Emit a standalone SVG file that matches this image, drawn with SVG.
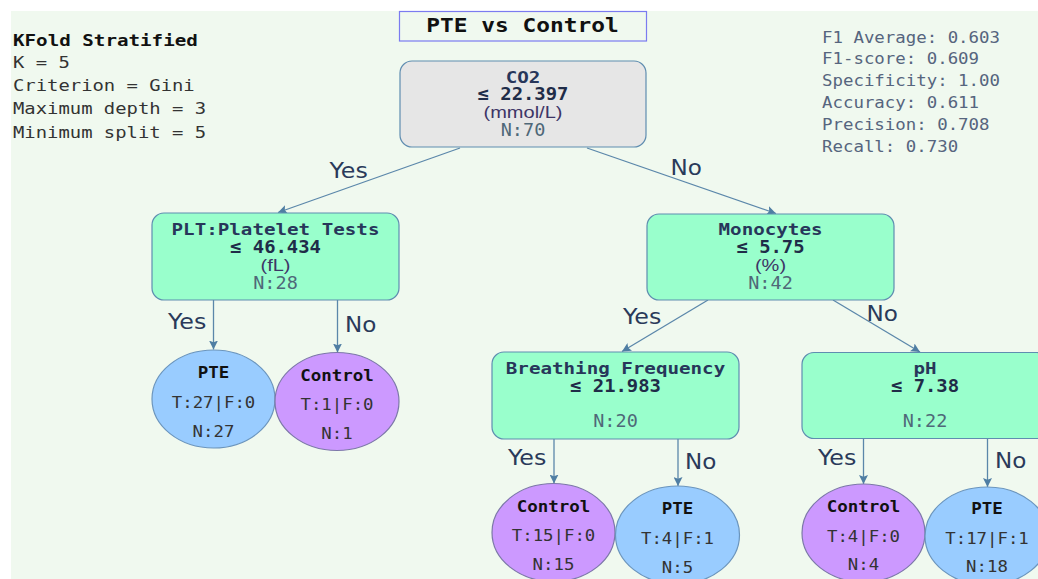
<svg xmlns="http://www.w3.org/2000/svg" width="1038" height="579" viewBox="0 0 1038 579">
  <style>
    .hdr { font-family: "DejaVu Sans Mono", monospace; font-size: 16px; font-weight: bold; fill: #111; }
    .par { font-family: "DejaVu Sans Mono", monospace; font-size: 16px; fill: #333; }
    .met { font-family: "DejaVu Sans Mono", monospace; font-size: 15px; fill: #56657e; }
    .ttl { font-family: "DejaVu Sans Mono", monospace; font-size: 19.5px; font-weight: bold; fill: #111; text-anchor: middle; }
    .nm  { font-family: "DejaVu Sans Mono", monospace; font-size: 16px; font-weight: bold; fill: #27365a; text-anchor: middle; }
    .th  { font-family: "DejaVu Sans Mono", monospace; font-size: 18px; font-weight: bold; fill: #1f2c48; text-anchor: middle; }
    .un  { font-family: "Liberation Sans", Arial, sans-serif; font-size: 16px; fill: #3d3566; text-anchor: middle; }
    .n   { font-family: "DejaVu Sans Mono", monospace; font-size: 17px; fill: #4f6878; text-anchor: middle; }
    .lt  { font-family: "DejaVu Sans Mono", monospace; font-size: 15.5px; font-weight: bold; fill: #111; text-anchor: middle; }
    .ls  { font-family: "DejaVu Sans Mono", monospace; font-size: 15.5px; fill: #333; text-anchor: middle; }
    .el  { font-family: "DejaVu Sans", Verdana, sans-serif; font-size: 22px; fill: #2a3a5a; }
    .box { stroke: #5f8db0; stroke-width: 1.2; }
    .split { fill: #99ffcc; }
    .rootbox { fill: #e6e6e6; }
    .pte { fill: #99ccff; stroke: #6b95bd; stroke-width: 1.2; }
    .ctl { fill: #cc99ff; stroke: #7c78a8; stroke-width: 1.2; }
    .edge { fill: none; stroke: #5b87aa; stroke-width: 1.3; marker-end: url(#arr); }
  </style>
  <defs>
    <marker id="arr" viewBox="0 0 10 10" refX="10" refY="5" markerWidth="9" markerHeight="9" markerUnits="userSpaceOnUse" orient="auto">
      <path d="M0,0 L10,5 L0,10 L2,5 z" fill="#4f7ea3"/>
    </marker>
  </defs>

  <!-- canvas -->
  <rect x="11" y="11" width="1027" height="568" fill="#f0f9ef"/>

  <!-- model settings -->
  <g id="settings">
    <text class="hdr" transform="translate(13 45.5) scale(1.2 1)">KFold Stratified</text>
    <text class="par" transform="translate(13 68) scale(1.18 1)">K = 5</text>
    <text class="par" transform="translate(13 91) scale(1.18 1)">Criterion = Gini</text>
    <text class="par" transform="translate(13 114) scale(1.18 1)">Maximum depth = 3</text>
    <text class="par" transform="translate(13 137.5) scale(1.18 1)">Minimum split = 5</text>
  </g>

  <!-- scores -->
  <g id="metrics">
    <text class="met" transform="translate(822 42.5) scale(1.16 1)">F1 Average: 0.603</text>
    <text class="met" transform="translate(822 64.3) scale(1.16 1)">F1-score: 0.609</text>
    <text class="met" transform="translate(822 86.1) scale(1.16 1)">Specificity: 1.00</text>
    <text class="met" transform="translate(822 107.9) scale(1.16 1)">Accuracy: 0.611</text>
    <text class="met" transform="translate(822 129.7) scale(1.16 1)">Precision: 0.708</text>
    <text class="met" transform="translate(822 151.5) scale(1.16 1)">Recall: 0.730</text>
  </g>

  <!-- title -->
  <g id="title">
    <rect x="399.5" y="11.5" width="247" height="29.5" fill="none" stroke="#7b7bf0" stroke-width="1.2"/>
    <text class="ttl" transform="translate(522.5 31.5) scale(1.17 1)">PTE vs Control</text>
  </g>

  <!-- connectors -->
  <g id="connectors">
    <path class="edge" d="M460 148 L278 212.5"/>
    <path class="edge" d="M587 148 L776 213.5"/>
    <path class="edge" d="M213.5 300 V349.5"/>
    <path class="edge" d="M337.5 300 V352.5"/>
    <path class="edge" d="M708 300 L622 351.5"/>
    <path class="edge" d="M833 300 L920 352"/>
    <path class="edge" d="M554 439 V483.5"/>
    <path class="edge" d="M678 439 V486"/>
    <path class="edge" d="M863.5 438.5 V484"/>
    <path class="edge" d="M987.5 438.5 V487"/>
    <g id="edge-labels">
      <text class="el" transform="translate(329.5 178.3) scale(1.08 1)">Yes</text>
      <text class="el" transform="translate(670.5 175) scale(1.05 1)">No</text>
      <text class="el" transform="translate(168 328.5) scale(1.08 1)">Yes</text>
      <text class="el" transform="translate(345 331.5) scale(1.05 1)">No</text>
      <text class="el" transform="translate(623 324) scale(1.08 1)">Yes</text>
      <text class="el" transform="translate(866.5 320.5) scale(1.05 1)">No</text>
      <text class="el" transform="translate(508 465) scale(1.08 1)">Yes</text>
      <text class="el" transform="translate(685 468.5) scale(1.05 1)">No</text>
      <text class="el" transform="translate(818 465) scale(1.08 1)">Yes</text>
      <text class="el" transform="translate(995 467.5) scale(1.05 1)">No</text>
    </g>
  </g>

  <!-- split nodes -->
  <g id="node-co2">
    <rect class="box rootbox" x="400" y="61" width="246" height="86" rx="12"/>
    <text class="nm" transform="translate(523 83) scale(1.2 1)">CO2</text>
    <text class="th" transform="translate(523 100) scale(1.05 1)">≤ 22.397</text>
    <text class="un" transform="translate(523 118) scale(1.25 1)">(mmol/L)</text>
    <text class="n" transform="translate(523 136) scale(1.09 1)">N:70</text>
  </g>

  <g id="node-plt">
    <rect class="box split" x="152" y="213" width="247" height="87" rx="12"/>
    <text class="nm" transform="translate(275.5 235) scale(1.2 1)">PLT:Platelet Tests</text>
    <text class="th" transform="translate(275.5 252.5) scale(1.05 1)">≤ 46.434</text>
    <text class="un" transform="translate(275.5 271) scale(1.25 1)">(fL)</text>
    <text class="n" transform="translate(275.5 288.5) scale(1.09 1)">N:28</text>
  </g>

  <g id="node-monocytes">
    <rect class="box split" x="647" y="214" width="247" height="86" rx="12"/>
    <text class="nm" transform="translate(770.5 235) scale(1.2 1)">Monocytes</text>
    <text class="th" transform="translate(770.5 252.5) scale(1.05 1)">≤ 5.75</text>
    <text class="un" transform="translate(770.5 270.5) scale(1.25 1)">(%)</text>
    <text class="n" transform="translate(770.5 288.5) scale(1.09 1)">N:42</text>
  </g>

  <g id="node-breathing">
    <rect class="box split" x="492" y="352" width="247" height="87" rx="12"/>
    <text class="nm" transform="translate(615.5 374) scale(1.2 1)">Breathing Frequency</text>
    <text class="th" transform="translate(615.5 391.5) scale(1.05 1)">≤ 21.983</text>
    <text class="n" transform="translate(615.5 426.5) scale(1.09 1)">N:20</text>
  </g>

  <g id="node-ph">
    <rect class="box split" x="802" y="352.5" width="247" height="86" rx="12"/>
    <text class="nm" transform="translate(925 373.5) scale(1.2 1)">pH</text>
    <text class="th" transform="translate(925 391.5) scale(1.05 1)">≤ 7.38</text>
    <text class="n" transform="translate(925 426.5) scale(1.09 1)">N:22</text>
  </g>

  <!-- leaves -->
  <g id="leaf-plt-yes">
    <ellipse class="pte" cx="213.5" cy="399" rx="61.5" ry="49"/>
    <text class="lt" transform="translate(213.5 378) scale(1.13 1)">PTE</text>
    <text class="ls" transform="translate(213.5 407.5) scale(1.12 1)">T:27|F:0</text>
    <text class="ls" transform="translate(213.5 437) scale(1.12 1)">N:27</text>
  </g>

  <g id="leaf-plt-no">
    <ellipse class="ctl" cx="337" cy="401.5" rx="62" ry="49"/>
    <text class="lt" transform="translate(337 380.5) scale(1.13 1)">Control</text>
    <text class="ls" transform="translate(337 410) scale(1.12 1)">T:1|F:0</text>
    <text class="ls" transform="translate(337 439) scale(1.12 1)">N:1</text>
  </g>

  <g id="leaf-breathing-yes">
    <ellipse class="ctl" cx="553.5" cy="532.5" rx="61.5" ry="49"/>
    <text class="lt" transform="translate(553.5 511.5) scale(1.13 1)">Control</text>
    <text class="ls" transform="translate(553.5 540.5) scale(1.12 1)">T:15|F:0</text>
    <text class="ls" transform="translate(553.5 570) scale(1.12 1)">N:15</text>
  </g>

  <g id="leaf-breathing-no">
    <ellipse class="pte" cx="677.5" cy="535" rx="62" ry="49"/>
    <text class="lt" transform="translate(677.5 513.5) scale(1.13 1)">PTE</text>
    <text class="ls" transform="translate(677.5 543.5) scale(1.12 1)">T:4|F:1</text>
    <text class="ls" transform="translate(677.5 572.5) scale(1.12 1)">N:5</text>
  </g>

  <g id="leaf-ph-yes">
    <ellipse class="ctl" cx="863.5" cy="533" rx="61.5" ry="49"/>
    <text class="lt" transform="translate(863.5 511.5) scale(1.13 1)">Control</text>
    <text class="ls" transform="translate(863.5 541.5) scale(1.12 1)">T:4|F:0</text>
    <text class="ls" transform="translate(863.5 570) scale(1.12 1)">N:4</text>
  </g>

  <g id="leaf-ph-no">
    <ellipse class="pte" cx="987" cy="536" rx="62" ry="49"/>
    <text class="lt" transform="translate(987 514) scale(1.13 1)">PTE</text>
    <text class="ls" transform="translate(987 543.5) scale(1.12 1)">T:17|F:1</text>
    <text class="ls" transform="translate(987 571.5) scale(1.12 1)">N:18</text>
  </g>
</svg>
